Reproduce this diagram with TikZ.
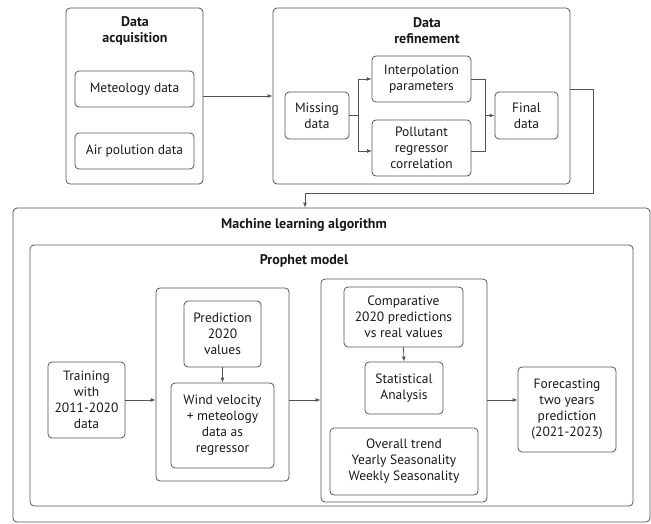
\documentclass[tikz,border=0pt]{standalone}
\usepackage{fontspec}
\setmainfont{PT Sans}
\usetikzlibrary{arrows.meta,calc}
\definecolor{ln}{RGB}{85,85,85}
\definecolor{tx}{RGB}{25,25,25}
\begin{document}
\begin{tikzpicture}[x=1pt,y=-1pt,
  box/.style={draw=ln,line width=0.8pt,rounded corners=4pt,align=center,inner sep=1pt,text=tx,font=\fontsize{13.5}{16}\selectfont},
  ttl/.style={align=center,text=tx,font=\fontsize{14}{16}\selectfont\bfseries,inner sep=0pt},
  arr/.style={draw=ln,line width=0.8pt,-{Latex[length=5pt,width=4pt]}},
  ln/.style={draw=ln,line width=0.8pt}]
\useasboundingbox (0,0) rectangle (651,523);
% top left
\node[box,minimum width=137,minimum height=176] (acq) at (134.5,96) {};
\node[ttl] (acqt) at (135,31) {Data\\acquisition};
\node[box,minimum width=119,minimum height=36] (met) at (134.5,89) {Meteology data};
\node[box,minimum width=119,minimum height=36] (air) at (134.5,151) {Air polution data};
% top right
\node[box,minimum width=297,minimum height=176] (ref) at (421.5,96) {};
\node[ttl] (reft) at (427,31) {Data\\refinement};
\node[box,minimum width=64,minimum height=47] (miss) at (317,115.5) {Missing\\data};
\node[box,minimum width=99,minimum height=46] (interp) at (421.5,79) {Interpolation\\parameters};
\node[box,minimum width=99,minimum height=56] (poll) at (421.5,148) {Pollutant\\regressor\\correlation};
\node[box,minimum width=63,minimum height=47] (final) at (526.5,115.5) {Final\\data};
% ML
\node[box,minimum width=637,minimum height=314] (ml) at (331.5,365) {};
\node[ttl] (mlt) at (304,225) {Machine learning algorithm};
\node[box,minimum width=603,minimum height=261] (pro) at (331.5,375.5) {};
\node[ttl] (prot) at (304,261) {Prophet model};
\node[box,minimum width=77,minimum height=76] (train) at (86.5,400) {Training\\with\\2011-2020\\data};
\node[box,minimum width=133,minimum height=193] (g1) at (222.5,384.5) {};
\node[box,minimum width=77,minimum height=66] (pred) at (222.5,334) {Prediction\\2020\\values};
\node[box,minimum width=103,minimum height=85] (wind) at (222.5,425.5) {Wind velocity\\+ meteology\\data as\\regressor};
\node[box,minimum width=166,minimum height=223] (g2) at (404,390.5) {};
\node[box,minimum width=119,minimum height=60] (comp) at (403.5,317) {Comparative\\2020 predictions\\vs real values};
\node[box,minimum width=78,minimum height=52] (stat) at (404,388) {Statistical\\Analysis};
\node[box,minimum width=148,minimum height=67] (over) at (404,461.5) {Overall trend\\Yearly Seasonality\\Weekly Seasonality};
\node[box,minimum width=98,minimum height=85] (fore) at (567,409.5) {Forecasting\\two years\\prediction\\(2021-2023)};
% connectors
\draw[arr] (acq.east) -- (ref.west);
\coordinate (sp) at (358,115.5);
\coordinate (pin) at (372,151);
\coordinate (pout) at (471,151);
\coordinate (jn) at (485,115.5);
\draw[arr] (miss.east) -- (sp) |- (interp.west);
\draw[arr] (sp) |- (pin);
\draw[ln] (interp.east) -| (jn);
\draw[ln] (pout) -| (jn);
\draw[arr] (jn) -- (final.west);
\coordinate (c1) at (593,89);
\coordinate (c2) at (593,193);
\coordinate (c3) at (305,193);
\draw[arr] (ref.east |- c1) -- (c1) -- (c2) -- (c3) -- (c3 |- ml.north);
\draw[arr] (train.east) -- (train.east -| g1.west);
\draw[arr] (g1.east |- train.east) -- (train.east -| g2.west);
\draw[arr] (pred.south) -- (wind.north);
\draw[arr] (comp.south) -- (stat.north);
\draw[arr] (g2.east |- train.east) -- (fore.west |- train.east);
\end{tikzpicture}
\end{document}
